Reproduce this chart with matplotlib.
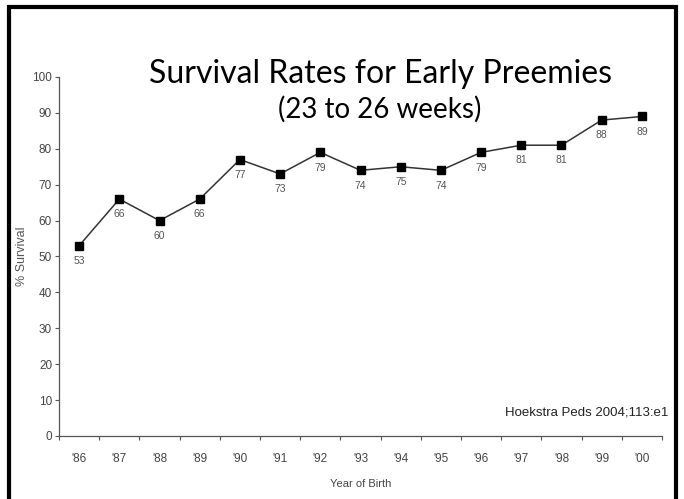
import matplotlib as mpl
import matplotlib.pyplot as plt
import numpy as np

mpl.rc('font', family=['Liberation Sans', 'DejaVu Sans'])

years = ["'86", "'87", "'88", "'89", "'90", "'91", "'92", "'93",
         "'94", "'95", "'96", "'97", "'98", "'99", "'00"]
survival = [53, 66, 60, 66, 77, 73, 79, 74, 75, 74, 79, 81, 81, 88, 89]
yticks = [0, 10, 20, 30, 40, 50, 60, 70, 80, 90, 100]

fig = plt.figure(figsize=(6.84, 4.99), dpi=100)
ax = fig.add_axes([0.0863, 0.1263, 0.8815, 0.7194])

x = np.arange(len(years))
ax.plot(x, survival, color='#333333', lw=1.1, marker='s', ms=5.5,
        mfc='black', mec='black')
for xi, v in zip(x, survival):
    ax.annotate(str(v), (xi, v), xytext=(0, -11), textcoords='offset points',
                ha='center', va='center', fontsize=7.5, color='#555555')

ax.set_xlim(-0.5, len(years) - 0.5)
ax.set_ylim(0, 100)
ax.set_yticks(yticks)
ax.set_xticks(np.arange(-0.5, len(years)), labels=[])
ax.set_xticks(x, labels=years, minor=True)
ax.tick_params(axis='x', which='major', direction='out', length=3,
               width=0.8, color='#555555')
ax.tick_params(axis='x', which='minor', length=0, pad=12,
               labelsize=8.5, labelcolor='#444444')
ax.tick_params(axis='y', direction='out', length=3, width=0.8,
               color='#555555', labelsize=8.5, labelcolor='#444444', pad=2)
for s in ['top', 'right']:
    ax.spines[s].set_visible(False)
for s in ['left', 'bottom']:
    ax.spines[s].set_color('#555555')
    ax.spines[s].set_linewidth(0.9)

ax.set_xlabel('Year of Birth', fontsize=8, color='#444444', labelpad=10)
ax.set_ylabel('% Survival', fontsize=9, color='#555555', labelpad=3)

ax.text(1.01, 0.065, 'Hoekstra Peds 2004;113:e1', transform=ax.transAxes,
        ha='right', va='center', fontsize=9.5, color='#222222')

fig.text(0.5556, 0.8337, 'Survival Rates for Early Preemies',
         ha='center', va='baseline', fontsize=23,
         family=['Lato', 'DejaVu Sans'], color='black')
fig.text(0.5556, 0.7635, '(23 to 26 weeks)', ha='center', va='baseline',
         fontsize=20, family=['Lato', 'DejaVu Sans'], color='black')

# slide frame
frame = mpl.patches.Rectangle((9 / 684, -0.05), (675.5 - 9) / 684,
                              1.05 - 7 / 499, transform=fig.transFigure,
                              fill=False, ec='black', lw=3, clip_on=False)
fig.add_artist(frame)

fig.savefig('out.png', dpi=100)
